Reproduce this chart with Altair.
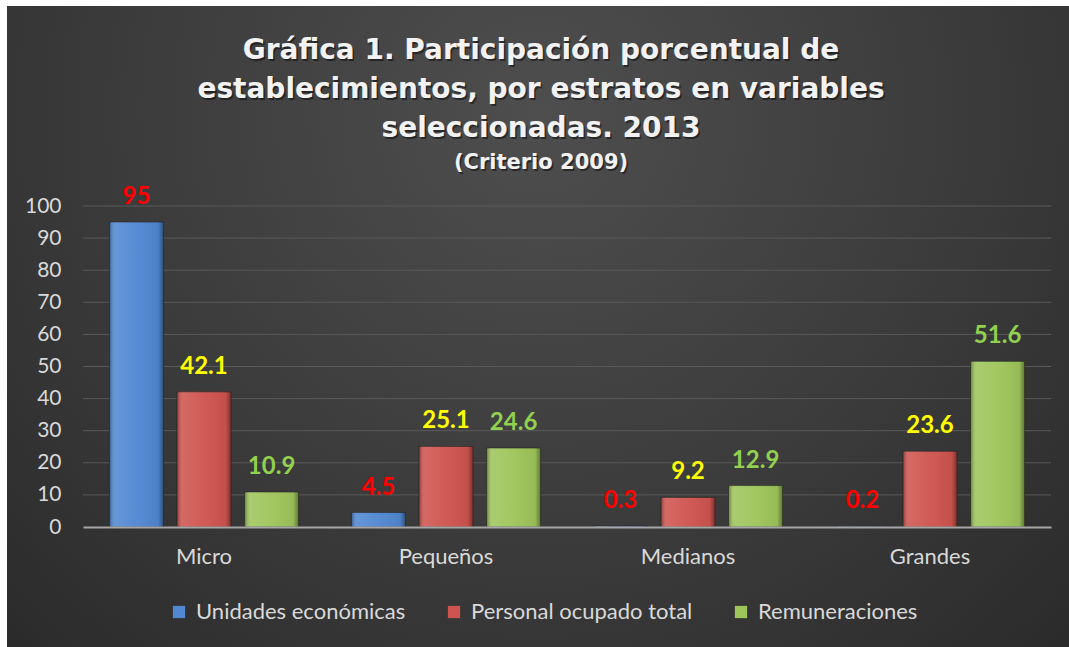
import altair as alt
import pandas as pd

categorias = ["Micro", "Pequeños", "Medianos", "Grandes"]
series = ["Unidades económicas", "Personal ocupado total", "Remuneraciones"]
unidades = [95, 4.5, 0.3, 0.2]
personal = [42.1, 25.1, 9.2, 23.6]
remuneraciones = [10.9, 24.6, 12.9, 51.6]
y_ticks = [0, 10, 20, 30, 40, 50, 60, 70, 80, 90, 100]
titulo = [
    "Gráfica 1. Participación porcentual de",
    "establecimientos, por estratos en variables",
    "seleccionadas. 2013",
]
subtitulo = "(Criterio 2009)"

bar_colors = ["#5088d2", "#cf544f", "#9ec55b"]
label_colors = ["#ff0000", "#ffff00", "#92d050"]

rows = []
for s, vals in zip(series, [unidades, personal, remuneraciones]):
    for c, v in zip(categorias, vals):
        rows.append({"estrato": c, "variable": s, "valor": v, "etiqueta": f"{v:g}"})
df = pd.DataFrame(rows)
grid_df = pd.DataFrame({"valor": y_ticks[1:]})

W, H = 968, 321
FONT = "Lato"
TFONT = "DejaVu Sans"

x_enc = alt.X(
    "estrato:N",
    sort=categorias,
    scale=alt.Scale(paddingInner=0, paddingOuter=0),
    axis=alt.Axis(
        title=None, labelAngle=0, labelFontSize=22, labelColor="#d9d9d9",
        labelPadding=19, ticks=False, domainColor="#a6a6a6", domainWidth=2,
        grid=False, labelFont=FONT, zindex=1,
    ),
)
xoff_enc = alt.XOffset(
    "variable:N", sort=series,
    scale=alt.Scale(paddingInner=0.2, paddingOuter=0.39),
)
y_scale = alt.Scale(domain=[0, 100], nice=False)
y_enc = alt.Y(
    "valor:Q",
    scale=y_scale,
    axis=alt.Axis(
        values=y_ticks, title=None, domain=False, ticks=False, grid=False,
        labelPadding=22, labelFontSize=21, labelColor="#d9d9d9",
        labelFont=FONT, zindex=1,
    ),
)

bg = alt.Chart(alt.Data(values=[{}])).mark_rect(
    fill=alt.RadialGradient(
        gradient="radial",
        stops=[
            alt.GradientStop(color="#4e4e4e", offset=0),
            alt.GradientStop(color="#3b3b3b", offset=0.5),
            alt.GradientStop(color="#262626", offset=1),
        ],
        x1=0.5, y1=0.3, r1=0, x2=0.5, y2=0.3, r2=0.8,
    )
).encode(
    x=alt.value(-76), x2=alt.value(986), y=alt.value(-200), y2=alt.value(441)
)

grid = alt.Chart(grid_df).mark_rule(color="#595959", strokeWidth=1).encode(
    y=y_enc,
    x=alt.value(0), x2=alt.value(W),
)

bars = alt.Chart(df).mark_bar(stroke="#222222", strokeWidth=0.6).encode(
    x=x_enc,
    xOffset=xoff_enc,
    y=y_enc,
    color=alt.Color(
        "variable:N", sort=series,
        scale=alt.Scale(domain=series, range=bar_colors),
        legend=alt.Legend(
            title=None, orient="none", legendX=85, legendY=395,
            direction="horizontal", columns=3, columnPadding=37,
            symbolType="square", symbolSize=150, symbolStrokeWidth=0,
            labelFontSize=22, labelColor="#d9d9d9", labelFont=FONT,
            labelOffset=6, labelLimit=0,
        ),
    ),
)

shade = alt.Chart(df).mark_bar(
    fill=alt.LinearGradient(
        gradient="linear",
        stops=[
            alt.GradientStop(color="rgba(0,0,0,0.35)", offset=0),
            alt.GradientStop(color="rgba(255,255,255,0.12)", offset=0.1),
            alt.GradientStop(color="rgba(255,255,255,0.04)", offset=0.5),
            alt.GradientStop(color="rgba(0,0,0,0.05)", offset=0.9),
            alt.GradientStop(color="rgba(0,0,0,0.4)", offset=1),
        ],
        x1=0, x2=1, y1=0, y2=0,
    )
).encode(x=x_enc, xOffset=xoff_enc, y=y_enc)

labels = alt.Chart(df).mark_text(
    fontSize=24, fontWeight="bold", font=FONT, baseline="alphabetic", dy=-18
).encode(
    x=x_enc,
    xOffset=xoff_enc,
    y=y_enc,
    text="etiqueta:N",
    color=alt.Color(
        "variable:N", sort=series,
        scale=alt.Scale(domain=series, range=label_colors), legend=None,
    ),
)

title_layers = []
for shadow in (True, False):
    for i, line in enumerate(titulo):
        title_layers.append(
            alt.Chart(alt.Data(values=[{}])).mark_text(
                text=line, fontSize=28, fontWeight="bold", font=TFONT,
                color="#000000" if shadow else "#f2f2f2",
                opacity=0.45 if shadow else 1,
                dx=1.5 if shadow else 0, dy=2 if shadow else 0,
                align="center", baseline="alphabetic",
            ).encode(x=alt.value(458), y=alt.value(-147 + 39 * i))
        )
    title_layers.append(
        alt.Chart(alt.Data(values=[{}])).mark_text(
            text=subtitulo, fontSize=21, fontWeight="bold", font=TFONT,
            color="#000000" if shadow else "#f2f2f2",
            opacity=0.45 if shadow else 1,
            dx=1.5 if shadow else 0, dy=2 if shadow else 0,
            align="center", baseline="alphabetic",
        ).encode(x=alt.value(458), y=alt.value(-37))
    )

chart = alt.layer(bg, grid, bars, shade, labels, *title_layers).resolve_scale(
    color="independent"
).properties(
    width=W, height=H,
    background="white",
    padding={"left": 83, "top": 206, "right": 18, "bottom": 120},
    autosize=alt.AutoSizeParams(type="none"),
).configure_view(stroke=None)

chart.save("out.html", embed_options={"renderer": "svg", "actions": False})
